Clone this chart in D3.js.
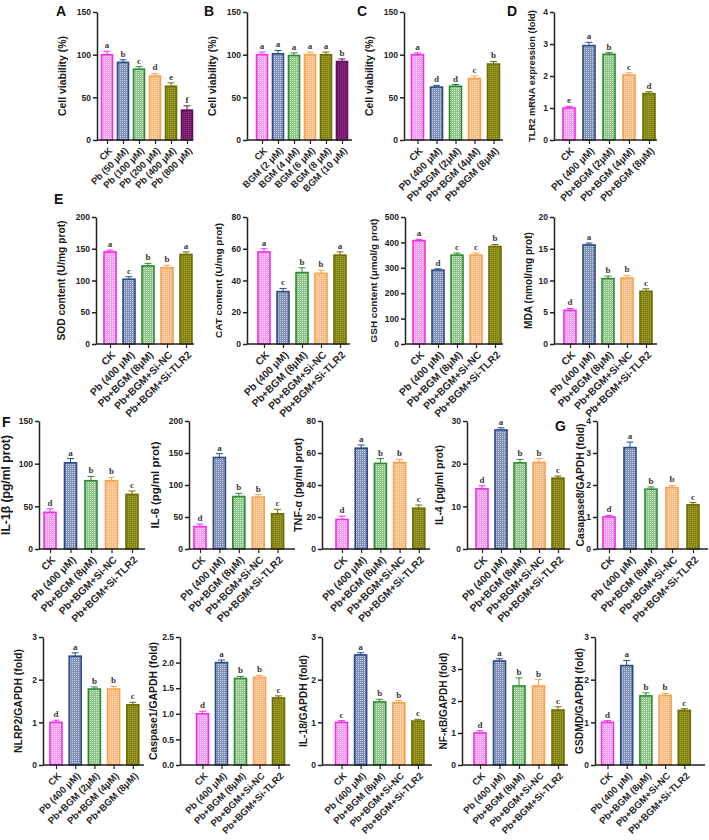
<!DOCTYPE html>
<html>
<meta charset="utf-8" />
<style>
  body { margin: 0; background: #fff; }
  svg { display: block; }
</style>
<body>
<svg width="709" height="840"></svg>
<script src="https://d3js.org/d3.v7.min.js"></script>
<script>
// ---- categories ----
const labelsA = ["CK", "Pb (50 μM)", "Pb (100 μM)", "Pb (200 μM)", "Pb (400 μM)", "Pb (800 μM)"];
const labelsB = ["CK", "BGM (2 μM)", "BGM (4 μM)", "BGM (6 μM)", "BGM (8 μM)", "BGM (10 μM)"];
const labelsDose = ["CK", "Pb (400 μM)", "Pb+BGM (2μM)", "Pb+BGM (4μM)", "Pb+BGM (8μM)"];
const labelsSi = ["CK", "Pb (400 μM)", "Pb+BGM (8μM)", "Pb+BGM+Si-NC", "Pb+BGM+Si-TLR2"];

// ---- values, error bars, significance letters ----
const valuesA = [100, 91, 83, 75, 63, 35];
const errorsA = [4, 3, 3, 3, 4, 5];
const lettersA = ["a", "b", "c", "d", "e", "f"];

const valuesB = [100, 101, 99, 100, 100, 92];
const errorsB = [3, 4, 3, 3, 3, 3];
const lettersB = ["a", "a", "a", "a", "a", "b"];

const valuesC = [100, 62, 63, 72, 89];
const errorsC = [2, 2, 2, 3, 3];
const lettersC = ["a", "d", "d", "c", "b"];

const valuesTLR2 = [1.0, 2.95, 2.68, 2.03, 1.45];
const errorsTLR2 = [0.05, 0.1, 0.05, 0.07, 0.06];
const lettersTLR2 = ["e", "a", "b", "c", "d"];

const valuesSOD = [145, 102, 123, 120, 141];
const errorsSOD = [3, 4, 4, 4, 4];
const lettersSOD = ["a", "c", "b", "b", "a"];

const valuesCAT = [58, 33, 45, 44.5, 56];
const errorsCAT = [2, 2, 3, 2, 2];
const lettersCAT = ["a", "c", "b", "b", "a"];

const valuesGSH = [407, 291, 350, 350, 384];
const errorsGSH = [5, 5, 8, 8, 8];
const lettersGSH = ["a", "d", "c", "c", "b"];

const valuesMDA = [5.3, 15.6, 10.3, 10.4, 8.3];
const errorsMDA = [0.3, 0.3, 0.4, 0.4, 0.4];
const lettersMDA = ["d", "a", "b", "b", "c"];

const valuesIL1b = [43, 101, 80, 80, 64];
const errorsIL1b = [4, 5, 5, 4, 4];
const lettersIL1b = ["d", "a", "b", "b", "c"];

const valuesIL6 = [35, 143, 82, 81, 55];
const errorsIL6 = [4, 6, 5, 4, 7];
const lettersIL6 = ["d", "a", "b", "b", "c"];

const valuesTNF = [18.5, 63, 53.5, 54, 25.5];
const errorsTNF = [2, 2, 3, 2, 2];
const lettersTNF = ["d", "a", "b", "b", "c"];

const valuesIL4 = [14.1, 27.9, 20.2, 20.3, 16.6];
const errorsIL4 = [0.7, 0.5, 0.8, 0.9, 0.5];
const lettersIL4 = ["d", "a", "b", "b", "c"];

const valuesCasp8 = [1.0, 3.17, 1.87, 1.92, 1.38];
const errorsCasp8 = [0.05, 0.17, 0.07, 0.07, 0.07];
const lettersCasp8 = ["d", "a", "b", "b", "c"];

const valuesNLRP2 = [1.0, 2.55, 1.78, 1.78, 1.41];
const errorsNLRP2 = [0.05, 0.08, 0.05, 0.06, 0.06];
const lettersNLRP2 = ["d", "a", "b", "b", "c"];

const valuesCasp1 = [1.0, 2.0, 1.69, 1.71, 1.31];
const errorsCasp1 = [0.05, 0.05, 0.04, 0.04, 0.04];
const lettersCasp1 = ["d", "a", "b", "b", "c"];

const valuesIL18 = [1.0, 2.58, 1.48, 1.46, 1.03];
const errorsIL18 = [0.04, 0.05, 0.06, 0.05, 0.04];
const lettersIL18 = ["c", "a", "b", "b", "c"];

const valuesNFkB = [1.0, 3.25, 2.47, 2.47, 1.72];
const errorsNFkB = [0.07, 0.07, 0.25, 0.2, 0.1];
const lettersNFkB = ["d", "a", "b", "b", "c"];

const valuesGSDMD = [1.0, 2.33, 1.62, 1.63, 1.28];
const errorsGSDMD = [0.04, 0.12, 0.07, 0.05, 0.04];
const lettersGSDMD = ["d", "a", "b", "b", "c"];

// ---- colours ----
const palette = {
  pink:   { stroke: "#ee2ee8", base: "#f59af0", dot: "#fde0fb" },
  blue:   { stroke: "#2c4a86", base: "#7f90b6", dot: "#c8d0e2" },
  green:  { stroke: "#2f8a33", base: "#8cc488", dot: "#d6ecd2" },
  orange: { stroke: "#f6a24e", base: "#f9bb80", dot: "#fde3c8" },
  olive:  { stroke: "#6e6e06", base: "#858512", dot: "#a3a33a" },
  purple: { stroke: "#62105e", base: "#761a6c", dot: "#8c3482" }
};
const colors6 = ["pink", "blue", "green", "orange", "olive", "purple"];
const colors5 = colors6.slice(0, 5);

const svg = d3.select("svg");
const font = "'Liberation Sans', Arial, sans-serif";

// checker patterns for bar fills
const defs = svg.append("defs");
Object.entries(palette).forEach(([k, c]) => {
  const pat = defs.append("pattern")
    .attr("id", "pat-" + k)
    .attr("width", 2).attr("height", 2)
    .attr("patternUnits", "userSpaceOnUse");
  pat.append("rect").attr("width", 2).attr("height", 2).attr("fill", c.base);
  pat.append("rect").attr("width", 1).attr("height", 1).attr("fill", c.dot);
});

// rows: top / bottom of the value axis, size of the category labels
const rows = [
  { top: 12, bottom: 140, xfs: 10 },
  { top: 217, bottom: 344, xfs: 10.3 },
  { top: 421, bottom: 549, xfs: 10.3 },
  { top: 637, bottom: 765, xfs: 9.6 }
];

// len = length of the y title as it appears in the figure
const panels = [
  { row: 0, ax: 97, first: 107, step: 16, end: 193, w: 11, max: 150, tick: 50, labels: labelsA, values: valuesA, errors: errorsA, letters: lettersA, colors: colors6, ylabel: "Cell viability (%)", lab: 31, len: 80, xfs: 9.5 },
  { row: 0, ax: 247, first: 262, step: 16, end: 352, w: 11, max: 150, tick: 50, labels: labelsB, values: valuesB, errors: errorsB, letters: lettersB, colors: colors6, ylabel: "Cell viability (%)", lab: 31, len: 80, xfs: 9.5 },
  { row: 0, ax: 404, first: 417.5, step: 19, end: 503, w: 12, max: 150, tick: 50, labels: labelsDose, values: valuesC, errors: errorsC, letters: lettersC, colors: colors5, ylabel: "Cell viability (%)", lab: 31, len: 80 },
  { row: 0, ax: 554, first: 569, step: 20, end: 657, w: 12, max: 4, tick: 1, labels: labelsDose, values: valuesTLR2, errors: errorsTLR2, letters: lettersTLR2, colors: colors5, ylabel: "TLR2 mRNA expression (fold)", lab: 19, len: 132 },

  { row: 1, ax: 96, first: 110, step: 19, end: 194, w: 12, max: 200, tick: 50, labels: labelsSi, values: valuesSOD, errors: errorsSOD, letters: lettersSOD, colors: colors5, ylabel: "SOD content (U/mg prot)", lab: 31, len: 120 },
  { row: 1, ax: 247, first: 264, step: 19, end: 350, w: 12, max: 80, tick: 20, labels: labelsSi, values: valuesCAT, errors: errorsCAT, letters: lettersCAT, colors: colors5, ylabel: "CAT content (U/mg prot)", lab: 25, len: 115 },
  { row: 1, ax: 405, first: 419, step: 19, end: 503, w: 12, max: 500, tick: 100, labels: labelsSi, values: valuesGSH, errors: errorsGSH, letters: lettersGSH, colors: colors5, ylabel: "GSH content (μmol/g prot)", lab: 28, len: 124 },
  { row: 1, ax: 554, first: 570, step: 19, end: 657, w: 12, max: 20, tick: 5, labels: labelsSi, values: valuesMDA, errors: errorsMDA, letters: lettersMDA, colors: colors5, ylabel: "MDA (nmol/mg prot)", lab: 22, len: 97 },

  { row: 2, ax: 39, first: 50, step: 20.5, end: 145, w: 12, max: 150, tick: 50, labels: labelsSi, values: valuesIL1b, errors: errorsIL1b, letters: lettersIL1b, colors: colors5, ylabel: "IL-1β (pg/ml prot)", lab: 29, len: 100 },
  { row: 2, ax: 189, first: 200, step: 19.4, end: 295, w: 12, max: 200, tick: 50, labels: labelsSi, values: valuesIL6, errors: errorsIL6, letters: lettersIL6, colors: colors5, ylabel: "IL-6 (pg/ml prot)", lab: 30, len: 87 },
  { row: 2, ax: 322, first: 342, step: 19.2, end: 430, w: 12, max: 80, tick: 20, labels: labelsSi, values: valuesTNF, errors: errorsTNF, letters: lettersTNF, colors: colors5, ylabel: "TNF-α (pg/ml prot)", lab: 20, len: 94 },
  { row: 2, ax: 467, first: 482, step: 19, end: 570, w: 12, max: 30, tick: 10, labels: labelsSi, values: valuesIL4, errors: errorsIL4, letters: lettersIL4, colors: colors5, ylabel: "IL-4 (pg/ml prot)", lab: 24, len: 80 },
  { row: 2, ax: 597, first: 609, step: 21, end: 708, w: 12, max: 4, tick: 1, labels: labelsSi, values: valuesCasp8, errors: errorsCasp8, letters: lettersCasp8, colors: colors5, ylabel: "Casapase8/GAPDH (fold)", lab: 13, len: 123 },

  { row: 3, ax: 43, first: 56, step: 19.2, end: 144, w: 12, max: 3, tick: 1, labels: labelsDose, values: valuesNLRP2, errors: errorsNLRP2, letters: lettersNLRP2, colors: colors5, ylabel: "NLRP2/GAPDH (fold)", lab: 21, len: 104 },
  { row: 3, ax: 180, first: 202.5, step: 19, end: 290, w: 12, max: 2.5, tick: 0.5, fmt: ".1f", labels: labelsSi, values: valuesCasp1, errors: errorsCasp1, letters: lettersCasp1, colors: colors5, ylabel: "Caspase1/GAPDH (fold)", lab: 23, len: 118 },
  { row: 3, ax: 322, first: 341.5, step: 19.1, end: 432, w: 12, max: 3, tick: 1, labels: labelsSi, values: valuesIL18, errors: errorsIL18, letters: lettersIL18, colors: colors5, ylabel: "IL-18/GAPDH (fold)", lab: 15, len: 92 },
  { row: 3, ax: 462, first: 480, step: 19.5, end: 568, w: 12, max: 4, tick: 1, labels: labelsSi, values: valuesNFkB, errors: errorsNFkB, letters: lettersNFkB, colors: colors5, ylabel: "NF-κB/GAPDH (fold)", lab: 15, len: 97 },
  { row: 3, ax: 595, first: 607.5, step: 19.2, end: 705, w: 12, max: 3, tick: 1, labels: labelsSi, values: valuesGSDMD, errors: errorsGSDMD, letters: lettersGSDMD, colors: colors5, ylabel: "GSDMD/GAPDH (fold)", lab: 12, len: 106 }
];

const panelLetters = [
  { t: "A", x: 56, y: 16 }, { t: "B", x: 204, y: 16 },
  { t: "C", x: 357, y: 16 }, { t: "D", x: 507, y: 16 },
  { t: "E", x: 54, y: 204 }, { t: "F", x: 2, y: 427 }, { t: "G", x: 555, y: 431 }
];

function drawPanel(p) {
  const r = rows[p.row];
  const n = p.labels.length;
  const g = svg.append("g");
  const y = d3.scaleLinear().domain([0, p.max]).range([r.bottom, r.top]);
  const x = d3.scalePoint().domain(p.labels).range([p.first, p.first + p.step * (n - 1)]);

  // bars
  const data = p.labels.map((l, i) => ({ l, v: p.values[i], e: p.errors[i], s: p.letters[i], c: palette[p.colors[i]], k: p.colors[i] }));
  const bars = g.selectAll(".bar").data(data).join("g");
  bars.append("rect")
    .attr("x", d => x(d.l) - p.w / 2)
    .attr("y", d => y(d.v))
    .attr("width", p.w)
    .attr("height", d => r.bottom - y(d.v))
    .attr("fill", d => "url(#pat-" + d.k + ")")
    .attr("stroke", d => d.c.stroke)
    .attr("stroke-width", 1.6);
  // error bars (upper half only)
  bars.append("line")
    .attr("x1", d => x(d.l)).attr("x2", d => x(d.l))
    .attr("y1", d => y(d.v)).attr("y2", d => y(d.v + d.e))
    .attr("stroke", d => d.c.stroke).attr("stroke-width", 1);
  bars.append("line")
    .attr("x1", d => x(d.l) - 3.5).attr("x2", d => x(d.l) + 3.5)
    .attr("y1", d => y(d.v + d.e)).attr("y2", d => y(d.v + d.e))
    .attr("stroke", d => d.c.stroke).attr("stroke-width", 1);
  bars.append("text")
    .attr("x", d => x(d.l))
    .attr("y", d => y(d.v + d.e) - 3)
    .attr("text-anchor", "middle")
    .attr("font-family", "'Liberation Serif', 'Times New Roman', serif")
    .attr("font-weight", "bold")
    .attr("font-size", 9)
    .attr("fill", "#3a3a3a")
    .text(d => d.s);

  // y axis
  const fmt = d3.format(p.fmt || "d");
  const yAxis = d3.axisLeft(y)
    .tickValues(d3.range(0, p.max + p.tick / 2, p.tick))
    .tickFormat(fmt)
    .tickSize(4)
    .tickSizeOuter(0)
    .tickPadding(2);
  const ya = g.append("g").attr("transform", `translate(${p.ax},0)`).call(yAxis);
  ya.select(".domain").attr("stroke", "#222").attr("stroke-width", 1.5);
  ya.selectAll(".tick line").attr("stroke", "#222").attr("stroke-width", 1.5);
  ya.selectAll(".tick text")
    .attr("font-family", font).attr("font-weight", "bold")
    .attr("font-size", 8.5).attr("fill", "#222");

  // x axis
  const xAxis = d3.axisBottom(x).tickSize(4).tickSizeOuter(0);
  const xa = g.append("g").attr("transform", `translate(0,${r.bottom})`).call(xAxis);
  xa.select(".domain").remove();
  xa.append("line")
    .attr("x1", p.ax).attr("x2", p.end)
    .attr("stroke", "#222").attr("stroke-width", 1.5);
  xa.selectAll(".tick line").attr("stroke", "#222").attr("stroke-width", 1.2);
  xa.selectAll(".tick text")
    .attr("font-family", font)
    .attr("font-weight", "bold")
    .attr("font-size", p.xfs || r.xfs)
    .attr("fill", "#2a2a2a")
    .attr("text-anchor", "end")
    .attr("x", 0).attr("y", 0).attr("dy", "0.35em")
    .attr("transform", "translate(3,9) rotate(-45)");

  // y label, sized to the length it has in the figure
  const yl = g.append("text")
    .attr("transform", `translate(${p.ax - p.lab},${(r.top + r.bottom) / 2}) rotate(-90)`)
    .attr("text-anchor", "middle")
    .attr("font-family", font)
    .attr("font-weight", "bold")
    .attr("font-size", 10)
    .attr("fill", "#1a1a1a")
    .text(p.ylabel);
  const len = yl.node().getComputedTextLength();
  yl.attr("font-size", (10 * p.len / len).toFixed(2));
}

panels.forEach(drawPanel);

svg.selectAll(".plabel").data(panelLetters).join("text")
  .attr("x", d => d.x).attr("y", d => d.y)
  .attr("font-family", font)
  .attr("font-weight", "bold")
  .attr("font-size", 14)
  .attr("fill", "#111")
  .text(d => d.t);
</script>
</body>
</html>
